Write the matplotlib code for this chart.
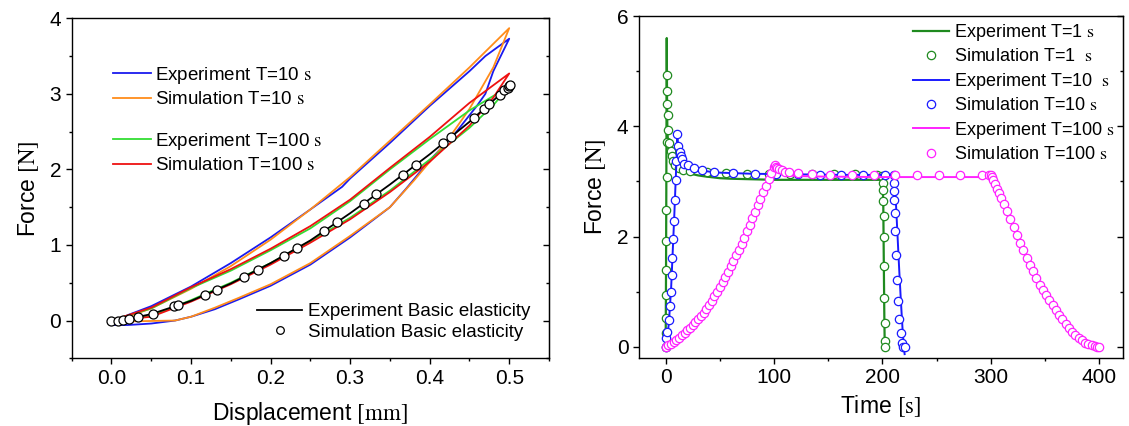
import matplotlib
matplotlib.use("Agg")
import matplotlib.pyplot as plt
from matplotlib.lines import Line2D
from matplotlib.ticker import MultipleLocator

plt.rcParams['font.family'] = ['Liberation Sans', 'DejaVu Sans']
plt.rcParams['mathtext.fontset'] = 'stix'

# ---- left panel: force vs displacement (closed loops: loading then unloading)
exp10_x = [0.0, 0.02, 0.05, 0.08, 0.1, 0.13, 0.16, 0.2, 0.25, 0.3, 0.35, 0.37, 0.4, 0.43, 0.46, 0.47, 0.48, 0.5,
           0.47, 0.45, 0.4, 0.35, 0.3, 0.29, 0.25, 0.2, 0.15, 0.1, 0.05, 0.02, 0.0]
exp10_y = [-0.06, -0.06, -0.04, 0.0, 0.05, 0.15, 0.28, 0.46, 0.74, 1.1, 1.5, 1.74, 2.12, 2.45, 2.85, 3.0, 3.3, 3.73,
           3.5, 3.3, 2.84, 2.35, 1.88, 1.77, 1.47, 1.1, 0.76, 0.45, 0.19, 0.07, -0.06]

sim10_x = [0.0, 0.03, 0.08, 0.1, 0.13, 0.16, 0.2, 0.25, 0.3, 0.35, 0.38, 0.4, 0.42, 0.45, 0.48, 0.5,
           0.45, 0.4, 0.35, 0.3, 0.25, 0.2, 0.15, 0.1, 0.05, 0.02, 0.0]
sim10_y = [0.0, -0.01, 0.0, 0.05, 0.17, 0.3, 0.48, 0.76, 1.12, 1.5, 1.85, 2.1, 2.35, 2.8, 3.35, 3.87,
           3.35, 2.86, 2.38, 1.9, 1.47, 1.07, 0.72, 0.42, 0.16, 0.05, 0.0]

loop100_x = [0.0, 0.05, 0.1, 0.15, 0.2, 0.25, 0.3, 0.35, 0.4, 0.45, 0.48, 0.5,
             0.45, 0.4, 0.35, 0.3, 0.25, 0.2, 0.15, 0.1, 0.05, 0.0]
exp100_y = [0.0, 0.06, 0.27, 0.5, 0.76, 1.05, 1.36, 1.72, 2.13, 2.55, 2.85, 3.1,
            2.78, 2.4, 2.0, 1.58, 1.22, 0.93, 0.66, 0.43, 0.16, 0.0]
sim100_y = [0.0, 0.05, 0.25, 0.48, 0.74, 1.03, 1.34, 1.7, 2.1, 2.58, 2.95, 3.27,
            2.88, 2.43, 2.02, 1.6, 1.25, 0.95, 0.68, 0.44, 0.17, 0.0]

basic_x = [0.0, 0.01, 0.02, 0.03, 0.05, 0.08, 0.1, 0.15, 0.2, 0.25, 0.3, 0.35, 0.4, 0.45, 0.5]
basic_y = [0.0, 0.005, 0.02, 0.04, 0.085, 0.19, 0.26, 0.49, 0.76, 1.06, 1.42, 1.8, 2.2, 2.63, 3.1]

basic_sim_x = [0.0, 0.008, 0.015, 0.0225, 0.033, 0.052, 0.079, 0.083, 0.117, 0.133, 0.167, 0.184, 0.217,
               0.233, 0.267, 0.283, 0.317, 0.333, 0.367, 0.383, 0.417, 0.427, 0.456, 0.468, 0.475, 0.489,
               0.494, 0.498, 0.5, 0.501]
basic_sim_y = [0.0, 0.0, 0.01, 0.02, 0.053, 0.088, 0.186, 0.208, 0.332, 0.407, 0.575, 0.672, 0.858,
               0.963, 1.185, 1.304, 1.538, 1.671, 1.931, 2.064, 2.343, 2.431, 2.687, 2.793, 2.86, 2.98,
               3.05, 3.08, 3.1, 3.12]

# ---- right panel: force vs time
exp1_t = [0, 0.3, 0.6, 0.8, 1.0, 1.3, 1.6, 2.5, 4, 6, 8, 11, 15, 21, 30, 37, 50, 60, 80, 100, 150, 200,
          200.8, 201.3, 201.8, 202.2]
exp1_f = [0, 1.2, 2.8, 4.3, 5.6, 4.4, 3.9, 3.63, 3.5, 3.4, 3.33, 3.24, 3.19, 3.15, 3.11, 3.09, 3.06, 3.05,
          3.04, 3.03, 3.03, 3.03, 2.6, 1.5, 0.5, -0.05]

sim1_t = [0, 0.2, 0.3, 0.4, 0.5, 0.6, 0.7, 0.8, 0.9, 1.0, 1.2, 1.5, 1.8, 2.5, 3.5, 4.5, 5.5, 7, 9, 12,
          16, 22, 38, 56, 75, 95, 115, 135, 155, 175, 195, 200, 200.5, 200.8, 201, 201.2, 201.4, 201.6,
          201.8, 202, 202.2, 202.4]
sim1_f = [0, 0.26, 0.53, 0.95, 1.4, 1.92, 2.48, 3.09, 3.72, 4.93, 4.64, 4.4, 4.21, 3.93, 3.7, 3.55, 3.46,
          3.38, 3.3, 3.25, 3.21, 3.19, 3.17, 3.15, 3.14, 3.14, 3.13, 3.13, 3.13, 3.13, 3.12, 3.1, 2.97,
          2.84, 2.65, 2.38, 2.0, 1.47, 0.89, 0.44, 0.11, 0.0]

exp10_t = [0, 1, 2, 3, 4, 5, 6, 7, 8, 9, 10, 10.8, 11.5, 12.5, 14, 16, 20, 25, 35, 50, 80, 120, 160, 200,
           210, 211, 212.5, 214, 215.5, 217, 218.5, 220, 220.5]
exp10_f = [0, 0.1, 0.25, 0.45, 0.75, 1.05, 1.5, 1.95, 2.4, 2.9, 3.4, 3.8, 3.62, 3.5, 3.4, 3.32, 3.27, 3.23,
           3.19, 3.16, 3.14, 3.13, 3.12, 3.12, 3.12, 3.0, 2.6, 2.0, 1.4, 0.85, 0.35, -0.05, -0.13]

sim10_t = [0, 0.3, 1.6, 3.0, 3.9, 4.9, 5.6, 6.2, 7.2, 7.6, 8.2, 9.5, 9.6, 10.9, 11.5, 12.8, 13.8, 15.1,
           16.8, 20.7, 25.7, 33.9, 44.7, 61.8, 82, 102, 122, 142, 162, 182, 202, 210.5, 210.6, 210.8,
           211.0, 211.3, 211.9, 212.6, 213.4, 214.6, 215.6, 216.8, 217.8, 219.0, 220.4]
sim10_f = [0, 0.17, 0.28, 0.49, 0.74, 1.0, 1.3, 1.62, 1.95, 2.29, 2.66, 3.03, 3.37, 3.86, 3.65, 3.53, 3.46,
           3.40, 3.32, 3.29, 3.24, 3.2, 3.17, 3.15, 3.14, 3.13, 3.13, 3.12, 3.12, 3.12, 3.12, 3.12, 2.97,
           2.82, 2.67, 2.43, 2.1, 1.66, 1.21, 0.83, 0.51, 0.26, 0.08, 0.0, 0.0]

exp100_t = [0, 5, 10, 15, 20, 25, 30, 35, 40, 45, 50, 55, 60, 65, 70, 75, 80, 85, 90, 95, 100,
            102, 105, 110, 120, 140, 200, 250, 299, 302, 305, 310, 315, 320, 325, 330, 335, 340, 345,
            350, 355, 360, 365, 370, 375, 380, 385, 390, 395, 400]
exp100_f = [0, 0.06, 0.13, 0.21, 0.3, 0.4, 0.5, 0.62, 0.76, 0.92, 1.09, 1.27, 1.46, 1.66, 1.87, 2.1, 2.33,
            2.57, 2.81, 3.04, 3.25, 3.2, 3.16, 3.12, 3.1, 3.09, 3.08, 3.08, 3.08, 3.05, 2.9, 2.68, 2.47,
            2.22, 1.98, 1.76, 1.53, 1.33, 1.13, 0.97, 0.82, 0.67, 0.53, 0.4, 0.28, 0.19, 0.1, 0.05,
            0.01, 0.0]

sim100_rise_t = [0, 2.5, 5, 7.5, 10, 12.5, 15, 17.5, 20, 22.5, 25, 27.5, 30, 32.5, 35, 37.5, 40, 42.5,
                 45, 47.5, 50, 52.5, 55, 57.5, 60, 62.5, 65, 67.5, 70, 72.5, 75, 77.5, 80, 82.5, 85, 87.5,
                 90, 92.5, 95, 97.5, 100]
sim100_rise_f = [0, 0.03, 0.06, 0.095, 0.13, 0.17, 0.21, 0.255, 0.3, 0.35, 0.4, 0.45, 0.5, 0.56, 0.62,
                 0.69, 0.76, 0.84, 0.92, 1.0, 1.09, 1.18, 1.27, 1.36, 1.46, 1.56, 1.66, 1.76, 1.87, 1.98,
                 2.1, 2.21, 2.33, 2.45, 2.57, 2.69, 2.81, 2.92, 3.04, 3.15, 3.27]
sim100_hold_t = [101, 102, 103, 105, 107, 110, 114, 122, 135, 152, 172, 192, 212, 232, 252, 272, 292, 298]
sim100_hold_f = [3.29, 3.27, 3.24, 3.22, 3.2, 3.18, 3.17, 3.15, 3.13, 3.12, 3.12, 3.12, 3.12, 3.12, 3.12,
                 3.12, 3.12, 3.12]
sim100_drop_t = [300, 301, 302.5, 304, 305.5, 307.5, 309.5, 312, 315, 318, 321, 324, 327, 330, 333, 336,
                 339, 342, 345, 348, 351, 354, 357, 360, 363, 366, 369, 372, 375, 378, 381, 384, 387,
                 390, 393, 396, 398, 400]
sim100_drop_f = [3.12, 3.08, 3.02, 2.95, 2.87, 2.79, 2.7, 2.6, 2.47, 2.32, 2.17, 2.03, 1.89, 1.76, 1.62,
                 1.49, 1.37, 1.25, 1.13, 1.03, 0.94, 0.85, 0.76, 0.67, 0.58, 0.5, 0.42, 0.35, 0.28, 0.22,
                 0.17, 0.12, 0.08, 0.05, 0.03, 0.01, 0.0, 0.0]

sim100_t = sim100_rise_t + sim100_hold_t + sim100_drop_t
sim100_f = sim100_rise_f + sim100_hold_f + sim100_drop_f


def style_axes(ax):
    for sp in ax.spines.values():
        sp.set_linewidth(1.0)
    ax.tick_params(which='both', direction='out', labelsize=15, width=1.0)
    ax.tick_params(which='major', length=4)
    ax.tick_params(which='minor', length=2.5)
    # mirrored ticks on the right side, pointing inwards
    sec = ax.secondary_yaxis('right')
    sec.yaxis.set_major_locator(ax.yaxis.get_major_locator())
    sec.yaxis.set_minor_locator(ax.yaxis.get_minor_locator())
    sec.tick_params(which='both', direction='in', labelright=False, width=1.0)
    sec.tick_params(which='major', length=4)
    sec.tick_params(which='minor', length=2.5)


fig = plt.figure(figsize=(11.29, 4.26), dpi=100)
W, H = 1129, 426

ax1 = fig.add_axes([71.7 / W, (H - 358.3) / H, 477.3 / W, 340 / H])
lw = 1.3
ax1.plot(exp10_x, exp10_y, color='#1a1aee', lw=lw)
ax1.plot(sim10_x, sim10_y, color='#ff8c1a', lw=lw)
ax1.plot(loop100_x, exp100_y, color='#33dd33', lw=lw)
ax1.plot(loop100_x, sim100_y, color='#ee1111', lw=lw)
ax1.plot(basic_x, basic_y, color='black', lw=lw)
ax1.plot(basic_sim_x, basic_sim_y, 'o', mfc='white', mec='black', ms=6.5, mew=0.9)
ax1.set_xlim(-0.05, 0.55)
ax1.set_ylim(-0.5, 4)
ax1.xaxis.set_major_locator(MultipleLocator(0.1))
ax1.xaxis.set_minor_locator(MultipleLocator(0.05))
ax1.yaxis.set_major_locator(MultipleLocator(1))
ax1.yaxis.set_minor_locator(MultipleLocator(0.5))
ax1.xaxis.set_major_formatter(plt.FormatStrFormatter('%.1f'))
ax1.set_xlabel(r'Displacement $\mathrm{[mm]}$', fontsize=16.5, labelpad=9)
ax1.set_ylabel(r'Force $\mathrm{[N]}$', fontsize=16.5, labelpad=6)
style_axes(ax1)

leg_kw = dict(frameon=False, fontsize=13.5, borderpad=0, borderaxespad=0, labelspacing=0.27,
              handletextpad=0.25, handlelength=2.0, numpoints=1, loc='upper left',
              bbox_transform=fig.transFigure)
h1 = [Line2D([], [], color='#1a1aee', lw=lw), Line2D([], [], color='#ff8c1a', lw=lw)]
l1 = [r'Experiment T=10 $\mathrm{s}$', r'Simulation T=10 $\mathrm{s}$']
leg_a = ax1.legend(h1, l1, bbox_to_anchor=(113 / W, 1 - 65 / H), **leg_kw)
ax1.add_artist(leg_a)
h2 = [Line2D([], [], color='#33dd33', lw=lw), Line2D([], [], color='#ee1111', lw=lw)]
l2 = [r'Experiment T=100 $\mathrm{s}$', r'Simulation T=100 $\mathrm{s}$']
leg_b = ax1.legend(h2, l2, bbox_to_anchor=(113 / W, 1 - 131 / H), **leg_kw)
ax1.add_artist(leg_b)
h3 = [Line2D([], [], color='black', lw=lw),
      Line2D([], [], ls='none', marker='o', mfc='white', mec='black', ms=5.5, mew=0.9)]
l3 = ['Experiment Basic elasticity', 'Simulation Basic elasticity']
kw3 = dict(leg_kw)
kw3.update(handlelength=2.4, handletextpad=0.3, labelspacing=0.2)
ax1.legend(h3, l3, bbox_to_anchor=(257 / W, 1 - 303 / H), **kw3)

ax2 = fig.add_axes([639 / W, (H - 358) / H, 484 / W, 342 / H])
ax2.plot(exp1_t, exp1_f, color='#1f8a1f', lw=1.6, label=r'Experiment T=1 $\mathrm{s}$')
ax2.plot(sim1_t, sim1_f, 'o', mfc='white', mec='#1f8a1f', ms=6, mew=0.9,
         label=r'Simulation T=1  $\mathrm{s}$')
ax2.plot(exp10_t, exp10_f, color='#1a1aff', lw=1.4, label=r'Experiment T=10  $\mathrm{s}$')
ax2.plot(sim10_t, sim10_f, 'o', mfc='white', mec='#1a1aff', ms=6, mew=0.9,
         label=r'Simulation T=10 $\mathrm{s}$')
ax2.plot(exp100_t, exp100_f, color='#ff22ff', lw=1.4, label=r'Experiment T=100 $\mathrm{s}$')
ax2.plot(sim100_t, sim100_f, 'o', mfc='white', mec='#ff22ff', ms=6, mew=0.9,
         label=r'Simulation T=100 $\mathrm{s}$')
ax2.set_xlim(-24.6, 422)
ax2.set_ylim(-0.2, 6)
ax2.xaxis.set_major_locator(MultipleLocator(100))
ax2.xaxis.set_minor_locator(MultipleLocator(50))
ax2.yaxis.set_major_locator(MultipleLocator(2))
ax2.yaxis.set_minor_locator(MultipleLocator(1))
ax2.set_xlabel(r'Time $\mathrm{[s]}$', fontsize=16.5, labelpad=4)
ax2.set_ylabel(r'Force $\mathrm{[N]}$', fontsize=16.5, labelpad=6)
style_axes(ax2)

leg2_kw = dict(leg_kw)
leg2_kw.update(labelspacing=0.3, fontsize=13)
ax2.legend(bbox_to_anchor=(913 / W, 1 - 22 / H), **leg2_kw)

fig.savefig('out.png', dpi=100)
